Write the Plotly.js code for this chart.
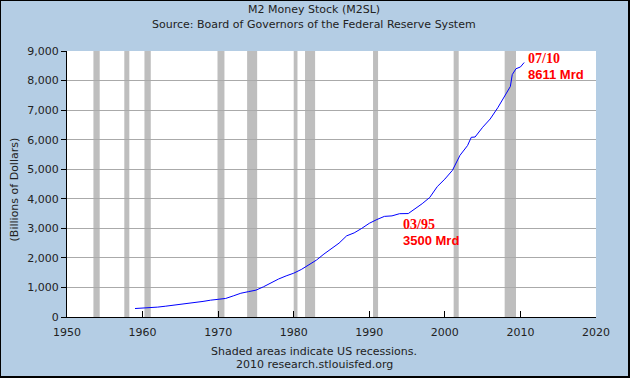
<!DOCTYPE html>
<html>
<head>
<meta charset="utf-8">
<script src="https://cdn.plot.ly/plotly-3.0.1.min.js"></script>
<style>
html,body{margin:0;padding:0;background:#b4cde4;}
#c{width:627px;height:375px;border-left:1px solid #000;border-top:1px solid #000;border-right:2px solid #000;border-bottom:2px solid #000;background:#b4cde4;}
</style>
</head>
<body>
<div id="c"></div>
<script>
// M2 money stock, billions of dollars
const dates = ['1959-01-01','1960-01-01','1961-01-01','1962-01-01','1963-01-01','1964-01-01','1965-01-01','1966-01-01','1967-01-01','1968-01-01','1969-01-01','1970-01-01','1971-01-01','1972-01-01','1973-01-01','1974-01-01','1975-01-01','1976-01-01','1977-01-01','1978-01-01','1979-01-01','1980-01-01','1981-01-01','1982-01-01','1983-01-01','1984-01-01','1985-01-01','1986-01-01','1987-01-01','1988-01-01','1989-01-01','1990-01-01','1991-01-01','1992-01-01','1993-01-01','1994-01-01','1995-03-01','1996-01-01','1997-01-01','1998-01-01','1999-01-01','2000-01-01','2001-01-01','2002-01-01','2003-01-01','2003-07-01','2004-01-01','2005-01-01','2006-01-01','2007-01-01','2008-01-01','2008-09-01','2008-12-01','2009-06-01','2010-01-01','2010-07-01'];
const m2 = [287,298,312,335,364,393,425,459,482,527,569,588,628,714,804,857,908,1022,1162,1286,1391,1482,1607,1766,1924,2130,2324,2499,2745,2846,2998,3170,3297,3404,3421,3495,3500,3640,3834,4045,4413,4666,4962,5470,5800,6080,6090,6420,6700,7080,7490,7800,8200,8400,8460,8611];
const recStart = ['1953-07-01','1957-08-01','1960-04-01','1969-12-01','1973-11-01','1980-01-01','1981-07-01','1990-07-01','2001-03-01','2007-12-01'];
const recEnd   = ['1954-05-01','1958-04-01','1961-02-01','1970-11-01','1975-03-01','1980-07-01','1982-11-01','1991-03-01','2001-11-01','2009-06-01'];
const yTicks = [0,1000,2000,3000,4000,5000,6000,7000,8000,9000];
const yTickText = ['0','1,000','2,000','3,000','4,000','5,000','6,000','7,000','8,000','9,000'];
const xTicks = ['1950-01-01','1960-01-01','1970-01-01','1980-01-01','1990-01-01','2000-01-01','2010-01-01','2020-01-01'];
const xTickText = ['1950','1960','1970','1980','1990','2000','2010','2020'];
const title1 = 'M2 Money Stock (M2SL)';
const title2 = 'Source: Board of Governors of the Federal Reserve System';
const foot1 = 'Shaded areas indicate US recessions.';
const foot2 = '2010 research.stlouisfed.org';

const font = 'DejaVu Sans, Verdana, sans-serif';
const shapes = recStart.map((s,i)=>({type:'rect',xref:'x',yref:'paper',x0:s,x1:recEnd[i],y0:0,y1:1,fillcolor:'#bebebe',line:{width:0},layer:'between'}));

const trace = {x:dates,y:m2,type:'scatter',mode:'lines',line:{color:'#0000ff',width:1},hoverinfo:'skip'};

const red = '#ff0000';
const annotations = [
  {xref:'paper',yref:'paper',x:0.467,y:1.155,text:title1,showarrow:false,font:{family:font,size:11,color:'#222'},xanchor:'center',yanchor:'middle'},
  {xref:'paper',yref:'paper',x:0.467,y:1.1,text:title2,showarrow:false,font:{family:font,size:11,color:'#222'},xanchor:'center',yanchor:'middle'},
  {xref:'paper',yref:'paper',x:0.467,y:-0.13,text:foot1,showarrow:false,font:{family:font,size:11,color:'#222'},xanchor:'center',yanchor:'middle'},
  {xref:'paper',yref:'paper',x:0.467,y:-0.18,text:foot2,showarrow:false,font:{family:font,size:11,color:'#222'},xanchor:'center',yanchor:'middle'},
  {xref:'paper',yref:'paper',x:-0.1,y:0.48,text:'(Billions of Dollars)',textangle:-90,showarrow:false,font:{family:font,size:11,color:'#222'},xanchor:'center',yanchor:'middle'},
  {xref:'x',yref:'y',x:'2010-10-01',y:8752,text:'<b>07/10</b>',showarrow:false,font:{family:'Liberation Serif, serif',size:14,color:red},xanchor:'left',yanchor:'middle'},
  {xref:'x',yref:'y',x:'2010-10-01',y:8221,text:'<b>8611 Mrd</b>',showarrow:false,font:{family:'Liberation Sans, Arial, sans-serif',size:13,color:red},xanchor:'left',yanchor:'middle'},
  {xref:'x',yref:'y',x:'1994-03-01',y:3146,text:'<b>03/95</b>',showarrow:false,font:{family:'Liberation Serif, serif',size:14,color:red},xanchor:'left',yanchor:'middle'},
  {xref:'x',yref:'y',x:'1994-03-01',y:2605,text:'<b>3500 Mrd</b>',showarrow:false,font:{family:'Liberation Sans, Arial, sans-serif',size:13,color:red},xanchor:'left',yanchor:'middle'}
];

const layout = {
  width:627,height:375,
  margin:{l:66,r:32,t:50,b:59},
  paper_bgcolor:'#b4cde4',plot_bgcolor:'#ffffff',
  showlegend:false,
  font:{family:font,size:11,color:'#222'},
  xaxis:{type:'date',range:['1950-01-01','2020-01-01'],tickmode:'array',tickvals:xTicks,ticktext:xTickText,
    ticks:'inside',ticklen:6,tickcolor:'#000',showline:true,linecolor:'#000',linewidth:1,showgrid:false,zeroline:false,
    ticklabelstandoff:5,
    tickfont:{family:font,size:11,color:'#222'}},
  yaxis:{range:[0,9000],tickmode:'array',tickvals:yTicks,ticktext:yTickText,
    ticks:'outside',ticklen:5,tickcolor:'#000',showline:true,linecolor:'#000',linewidth:1,showgrid:true,gridcolor:'#aaaaaa',gridwidth:1,zeroline:false,
    tickfont:{family:font,size:11,color:'#222'}},
  shapes:shapes,
  annotations:annotations
};
Plotly.newPlot('c',[trace],layout,{staticPlot:true,displayModeBar:false});
</script>
</body>
</html>
